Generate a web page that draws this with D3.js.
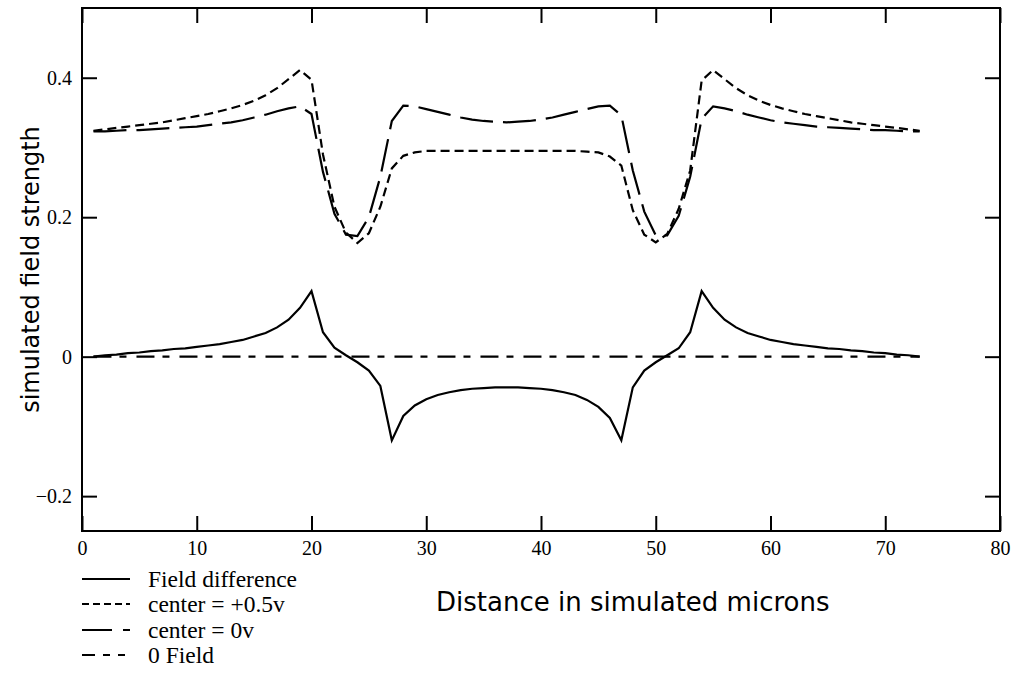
<!DOCTYPE html>
<html>
<head>
<meta charset="utf-8">
<script src="https://cdn.jsdelivr.net/npm/d3@7"></script>
<style>
  html, body { margin: 0; padding: 0; background: #fff; }
  svg { display: block; }
</style>
</head>
<body>
<svg id="chart" width="1018" height="675"></svg>
<script>
// ---------------- data ----------------
const xPositions = d3.range(1, 74); // microns 1..73

const fieldDifference = [
  0.000,0.002,0.003,0.005,0.006,0.008,0.009,0.011,0.012,0.014,
  0.016,0.018,0.021,0.024,0.029,0.034,0.042,0.053,0.070,0.094,
  0.035,0.013,0.002,-0.008,-0.020,-0.042,-0.120,-0.085,-0.070,-0.061,
  -0.055,-0.051,-0.048,-0.046,-0.045,-0.044,-0.044,-0.044,-0.045,-0.046,
  -0.048,-0.051,-0.055,-0.062,-0.072,-0.088,-0.120,-0.044,-0.020,-0.008,
  0.002,0.012,0.035,0.094,0.070,0.053,0.042,0.034,0.029,0.024,
  0.021,0.018,0.016,0.014,0.012,0.011,0.009,0.008,0.006,0.005,
  0.003,0.002,0.000
];

const centerPlusHalf = [
  0.324,0.326,0.328,0.330,0.332,0.334,0.336,0.339,0.342,0.345,
  0.348,0.352,0.356,0.361,0.367,0.375,0.385,0.398,0.411,0.397,
  0.290,0.215,0.178,0.163,0.177,0.215,0.270,0.288,0.293,0.295,
  0.295,0.295,0.295,0.295,0.295,0.295,0.295,0.295,0.295,0.295,
  0.295,0.295,0.295,0.294,0.293,0.287,0.274,0.210,0.175,0.164,
  0.176,0.212,0.267,0.396,0.411,0.398,0.385,0.375,0.367,0.361,
  0.356,0.352,0.348,0.345,0.342,0.339,0.336,0.334,0.332,0.330,
  0.328,0.326,0.324
];

const centerZero = [
  0.323,0.323,0.324,0.325,0.325,0.326,0.327,0.328,0.329,0.330,
  0.332,0.334,0.336,0.339,0.343,0.347,0.352,0.356,0.359,0.348,
  0.265,0.205,0.175,0.173,0.200,0.258,0.338,0.360,0.359,0.355,
  0.351,0.347,0.343,0.340,0.338,0.337,0.336,0.337,0.338,0.340,
  0.343,0.347,0.351,0.355,0.359,0.360,0.346,0.267,0.208,0.174,
  0.174,0.202,0.258,0.341,0.359,0.356,0.352,0.347,0.343,0.339,
  0.336,0.334,0.332,0.330,0.329,0.328,0.327,0.326,0.325,0.325,
  0.324,0.323,0.323
];

const zeroField = xPositions.map(() => 0);

const xTicks = [0, 10, 20, 30, 40, 50, 60, 70, 80];
const xTickLabels = ["0", "10", "20", "30", "40", "50", "60", "70", "80"];
const yTicks = [-0.2, 0, 0.2, 0.4];
const yTickLabels = ["\u22120.2", "0", "0.2", "0.4"];

const legendLabels = ["Field difference", "center = +0.5v", "center = 0v", "0 Field"];
const xTitle = "Distance in simulated microns";
const yTitle = "simulated field strength";

// ---------------- layout ----------------
const L = 82, R = 1000, T = 8, B = 531;
const svg = d3.select("#chart");

const x = d3.scaleLinear().domain([0, 80]).range([L, R]);
const y = d3.scaleLinear().domain([-0.25, 0.5]).range([B, T]);

const tickFont = "'Liberation Serif', 'Times New Roman', serif";

// axes (inward ticks on all four sides)
const gBottom = svg.append("g").attr("transform", `translate(0,${B})`)
  .call(d3.axisBottom(x).tickValues(xTicks).tickFormat((d, i) => xTickLabels[i])
    .tickSizeInner(-15).tickSizeOuter(0).tickPadding(10));
const gTop = svg.append("g").attr("transform", `translate(0,${T})`)
  .call(d3.axisTop(x).tickValues(xTicks).tickFormat("")
    .tickSizeInner(-15).tickSizeOuter(0));
const gLeft = svg.append("g").attr("transform", `translate(${L},0)`)
  .call(d3.axisLeft(y).tickValues(yTicks).tickFormat((d, i) => yTickLabels[i])
    .tickSizeInner(-15).tickSizeOuter(0).tickPadding(10));
const gRight = svg.append("g").attr("transform", `translate(${R},0)`)
  .call(d3.axisRight(y).tickValues(yTicks).tickFormat("")
    .tickSizeInner(-15).tickSizeOuter(0));

[gBottom, gTop, gLeft, gRight].forEach(g => {
  g.select(".domain").remove();
  g.selectAll(".tick line").attr("stroke", "#000").attr("stroke-width", 2);
  g.selectAll(".tick text").attr("fill", "#000")
    .style("font-family", tickFont).style("font-size", "20px");
});

// frame
svg.append("rect")
  .attr("x", L).attr("y", T).attr("width", R - L).attr("height", B - T)
  .attr("fill", "none").attr("stroke", "#000").attr("stroke-width", 2);

// series
const series = [
  { values: fieldDifference, dash: null },
  { values: centerPlusHalf, dash: "9,5" },
  { values: centerZero, dash: "33,10" },
  { values: zeroField, dash: "18,8,7,10" }
];

const line = d3.line()
  .x((d, i) => x(xPositions[i]))
  .y(d => y(d));

series.forEach(s => {
  svg.append("path")
    .datum(s.values)
    .attr("d", line)
    .attr("fill", "none")
    .attr("stroke", "#000")
    .attr("stroke-width", 2.2)
    .attr("stroke-dasharray", s.dash);
});

// legend
const legendDashes = [null, "7,4", "30,11,7,11", "13,8,7,8,7,8"];
const legendRowY = [579, 604, 630, 655];
const legend = svg.append("g");
legendLabels.forEach((lab, i) => {
  legend.append("line")
    .attr("x1", 82).attr("x2", 130)
    .attr("y1", legendRowY[i]).attr("y2", legendRowY[i])
    .attr("stroke", "#000").attr("stroke-width", 2)
    .attr("stroke-dasharray", legendDashes[i]);
  legend.append("text")
    .attr("x", 148).attr("y", legendRowY[i]).attr("dy", "0.35em")
    .style("font-family", tickFont).style("font-size", "23.5px")
    .attr("fill", "#000")
    .text(lab);
});

// axis titles
svg.append("text")
  .attr("x", 436).attr("y", 611)
  .style("font-family", "'DejaVu Sans', sans-serif").style("font-size", "26px")
  .attr("fill", "#000")
  .text(xTitle);

svg.append("text")
  .attr("transform", `translate(39,${(T + B) / 2}) rotate(-90)`)
  .attr("text-anchor", "middle")
  .style("font-family", "'DejaVu Sans', sans-serif").style("font-size", "24px")
  .attr("fill", "#000")
  .text(yTitle);
</script>
</body>
</html>
